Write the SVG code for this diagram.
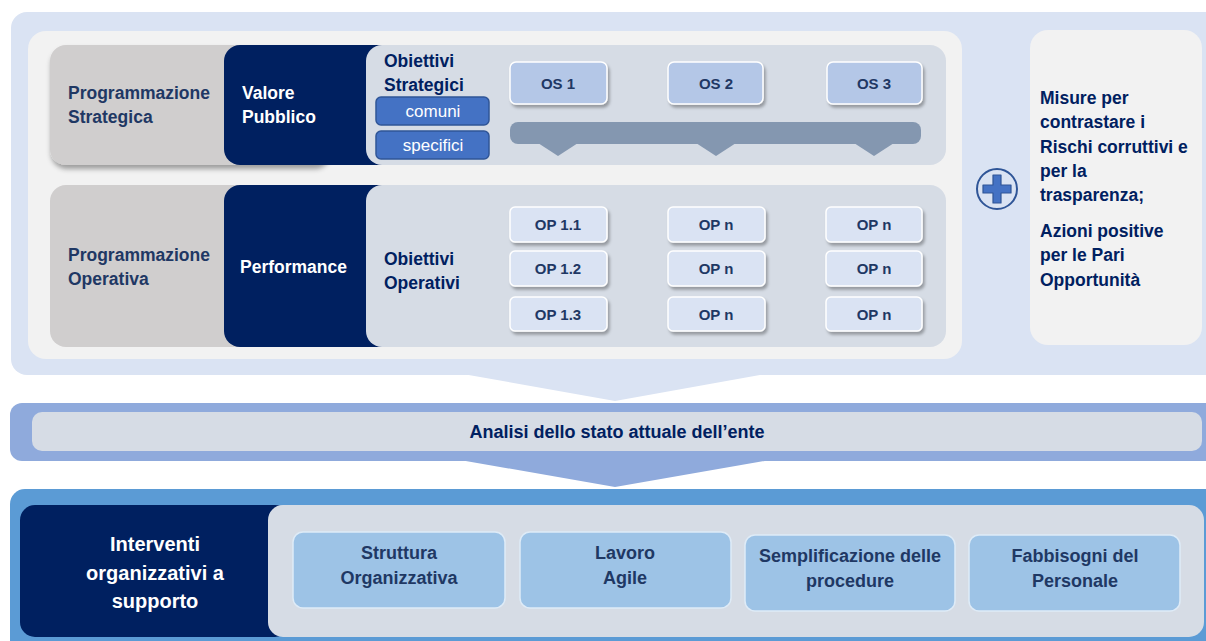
<svg xmlns="http://www.w3.org/2000/svg" width="1206" height="641" viewBox="0 0 1206 641">
<defs>
<filter id="sh" x="-10%" y="-20%" width="130%" height="150%">
<feDropShadow dx="2" dy="3" stdDeviation="1.5" flood-color="#000" flood-opacity="0.3"/>
</filter>
<filter id="sh2" x="-5%" y="-10%" width="115%" height="130%">
<feDropShadow dx="1" dy="4" stdDeviation="2.5" flood-color="#000" flood-opacity="0.35"/>
</filter>
<style>
text{font-family:"Liberation Sans",Arial,sans-serif;font-weight:bold}
.lab{font-size:17.5px;fill:#1f3864}
.nav{font-size:17.5px;fill:#002060}
.wh{font-size:17.5px;fill:#fff}
.rt{font-size:17.5px;fill:#002060}
.os{fill:#b4c7e7;stroke:#fff;stroke-width:1.5}
.op{fill:#dae3f3;stroke:#fff;stroke-width:1.5}
.bt{font-size:15px;fill:#1f3864;text-anchor:middle}
.btn{fill:#4472c4;stroke:#2f5597;stroke-width:1.5}
.btt{font-size:17px;font-weight:normal;fill:#fff;text-anchor:middle}
.bx{fill:#9dc3e6;stroke:#deebf7;stroke-width:1.5}
.bxt{font-size:18px;fill:#1f3864;text-anchor:middle}
</style>
</defs>

<g id="background">
<rect x="10" y="489" width="1220" height="170" rx="15" fill="#5b9bd5"/>
<rect x="10" y="403" width="1220" height="58" rx="12" fill="#8faadc"/>
<rect x="11" y="12" width="1220" height="363" rx="16" fill="#dae3f3"/>
<rect x="28" y="31" width="934" height="328" rx="18" fill="#f2f2f2"/>
</g>

<g id="row-strategica">
<rect x="50" y="45" width="280" height="120" rx="16" fill="#d0cece" filter="url(#sh2)"/>
<text class="lab" x="68" y="99">Programmazione</text>
<text class="lab" x="68" y="123">Strategica</text>
</g>
<g id="valore-pubblico">
<rect x="224" y="45" width="180" height="120" rx="16" fill="#002060"/>
<text class="wh" x="242" y="99">Valore</text>
<text class="wh" x="242" y="123">Pubblico</text>
</g>
<g id="obiettivi-strategici">
<rect x="366" y="45" width="580" height="120" rx="16" fill="#d6dce5"/>
<text class="nav" x="384" y="67">Obiettivi</text>
<text class="nav" x="384" y="91">Strategici</text>
</g>

<g id="row-operativa">
<rect x="50" y="185" width="280" height="162" rx="16" fill="#d0cece"/>
<text class="lab" x="68" y="261">Programmazione</text>
<text class="lab" x="68" y="285">Operativa</text>
</g>
<g id="performance">
<rect x="224" y="185" width="180" height="162" rx="16" fill="#002060"/>
<text class="wh" x="240" y="273">Performance</text>
</g>
<g id="obiettivi-operativi">
<rect x="366" y="185" width="580" height="162" rx="16" fill="#d6dce5"/>
<text class="nav" x="384" y="265">Obiettivi</text>
<text class="nav" x="384" y="289">Operativi</text>
</g>

<g id="connectors">
<polygon points="463,374 615,401 765,374" fill="#dae3f3"/>
<polygon points="460,460 615,487 770,460" fill="#8faadc"/>
<rect x="510" y="122" width="411" height="22" rx="8" fill="#8497b0"/>
<polygon points="538,143 558,156 578,143" fill="#8497b0"/>
<polygon points="696,143 716,156 736,143" fill="#8497b0"/>
<polygon points="854,143 874,156 894,143" fill="#8497b0"/>
</g>

<g id="comuni">
<rect class="btn" x="376" y="97" width="113" height="28" rx="5"/>
<text class="btt" x="433" y="117">comuni</text>
</g>
<g id="specifici">
<rect class="btn" x="376" y="131" width="113" height="28" rx="5"/>
<text class="btt" x="433" y="151">specifici</text>
</g>
<g id="os1"><rect class="os" x="510" y="62" width="97" height="42" rx="6" filter="url(#sh)"/><text class="bt" x="558" y="89">OS 1</text></g>
<g id="os2"><rect class="os" x="668" y="62" width="95" height="42" rx="6" filter="url(#sh)"/><text class="bt" x="716" y="89">OS 2</text></g>
<g id="os3"><rect class="os" x="827" y="62" width="95" height="42" rx="6" filter="url(#sh)"/><text class="bt" x="874" y="89">OS 3</text></g>

<g id="op11"><rect class="op" x="510" y="207" width="97" height="35" rx="5" filter="url(#sh)"/><text class="bt" x="558" y="230">OP 1.1</text></g>
<g id="op12"><rect class="op" x="510" y="251" width="97" height="35" rx="5" filter="url(#sh)"/><text class="bt" x="558" y="274">OP 1.2</text></g>
<g id="op13"><rect class="op" x="510" y="297" width="97" height="34" rx="5" filter="url(#sh)"/><text class="bt" x="558" y="320">OP 1.3</text></g>
<g id="op2a"><rect class="op" x="668" y="207" width="97" height="35" rx="5" filter="url(#sh)"/><text class="bt" x="716" y="230">OP n</text></g>
<g id="op2b"><rect class="op" x="668" y="251" width="97" height="35" rx="5" filter="url(#sh)"/><text class="bt" x="716" y="274">OP n</text></g>
<g id="op2c"><rect class="op" x="668" y="297" width="97" height="34" rx="5" filter="url(#sh)"/><text class="bt" x="716" y="320">OP n</text></g>
<g id="op3a"><rect class="op" x="826" y="207" width="96" height="35" rx="5" filter="url(#sh)"/><text class="bt" x="874" y="230">OP n</text></g>
<g id="op3b"><rect class="op" x="826" y="251" width="96" height="35" rx="5" filter="url(#sh)"/><text class="bt" x="874" y="274">OP n</text></g>
<g id="op3c"><rect class="op" x="826" y="297" width="96" height="34" rx="5" filter="url(#sh)"/><text class="bt" x="874" y="320">OP n</text></g>

<g id="plus">
<circle cx="997" cy="189" r="20" fill="#dae3f3" stroke="#2f5597" stroke-width="2"/>
<path d="M993,175 h8 v10 h10 v8 h-10 v10 h-8 v-10 h-10 v-8 h10 z" fill="#4472c4" stroke="#2f5597" stroke-width="1.2" stroke-linejoin="round"/>
</g>

<g id="misure">
<rect x="1030" y="30" width="172" height="315" rx="18" fill="#f2f2f2"/>
<text class="rt" x="1040" y="104">Misure per</text>
<text class="rt" x="1040" y="128">contrastare i</text>
<text class="rt" x="1040" y="153">Rischi corruttivi e</text>
<text class="rt" x="1040" y="177">per la</text>
<text class="rt" x="1040" y="201">trasparenza;</text>
<text class="rt" x="1040" y="237">Azioni positive</text>
<text class="rt" x="1040" y="261">per le Pari</text>
<text class="rt" x="1040" y="286">Opportunità</text>
</g>

<g id="analisi">
<rect x="32" y="412" width="1170" height="39" rx="10" fill="#d6dce5"/>
<text class="nav" x="617" y="438" text-anchor="middle" style="font-size:18px">Analisi dello stato attuale dell’ente</text>
</g>

<g id="interventi">
<rect x="20" y="505" width="270" height="132" rx="15" fill="#002060"/>
<text x="155" y="551" text-anchor="middle" style="font-size:20px;fill:#fff">Interventi</text>
<text x="155" y="580" text-anchor="middle" style="font-size:20px;fill:#fff">organizzativi a</text>
<text x="155" y="608" text-anchor="middle" style="font-size:20px;fill:#fff">supporto</text>
</g>
<g id="supporto-panel">
<rect x="268" y="505" width="936" height="132" rx="15" fill="#d6dce5"/>
</g>
<g id="struttura"><rect class="bx" x="293" y="532" width="212" height="76" rx="10"/><text class="bxt" x="399" y="559">Struttura</text><text class="bxt" x="399" y="584">Organizzativa</text></g>
<g id="lavoro"><rect class="bx" x="520" y="532" width="211" height="76" rx="10"/><text class="bxt" x="625" y="559">Lavoro</text><text class="bxt" x="625" y="584">Agile</text></g>
<g id="semplificazione"><rect class="bx" x="745" y="535" width="210" height="76" rx="10"/><text class="bxt" x="850" y="562">Semplificazione delle</text><text class="bxt" x="850" y="587">procedure</text></g>
<g id="fabbisogni"><rect class="bx" x="969" y="535" width="211" height="76" rx="10"/><text class="bxt" x="1075" y="562">Fabbisogni del</text><text class="bxt" x="1075" y="587">Personale</text></g>
</svg>
